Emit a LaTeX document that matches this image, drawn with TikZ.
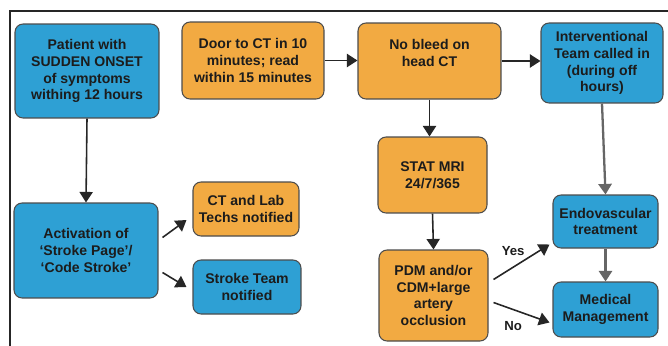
\documentclass[tikz,border=0pt]{standalone}
\usepackage{fontspec}
\setmainfont{Liberation Sans}
\usepackage{tikz}
\usetikzlibrary{arrows.meta,positioning}

\definecolor{pathblue}{RGB}{46,160,212}
\definecolor{pathorange}{RGB}{242,170,66}
\definecolor{pathtext}{RGB}{28,28,28}

\tikzset{
  stepbox/.style={draw=black!70,line width=0.6pt,rounded corners=0.16cm,
    align=center,inner sep=1pt,text=pathtext,
    font=\fontsize{8}{9.6}\selectfont\bfseries},
  bluebox/.style={stepbox,fill=pathblue},
  orangebox/.style={stepbox,fill=pathorange},
  flow/.style={-{Triangle[width=7.5pt,length=6pt]},line width=0.9pt,black!85},
  grayflow/.style={flow,gray!80!black,line width=1.3pt},
  yesno/.style={font=\fontsize{7.5}{9}\selectfont\bfseries,text=pathtext}
}

\begin{document}
\begin{tikzpicture}[x=0.02cm,y=-0.02cm]
\useasboundingbox (0,0) rectangle (668,345);
\draw[line width=1pt,black!85] (10,350) -- (10,11) -- (675,11);

\node[bluebox,minimum width=2.88cm,minimum height=1.88cm] (patient) at (87,71)
  {Patient with\\SUDDEN ONSET\\of symptoms\\withing 12 hours};
\node[orangebox,minimum width=2.84cm,minimum height=1.54cm] (door) at (253,60.5)
  {Door to CT in 10\\minutes; read\\within 15 minutes};
\node[orangebox,minimum width=2.86cm,minimum height=1.52cm] (bleed) at (429.5,61)
  {No bleed on\\head CT\\ };
\node[bluebox,minimum width=2.44cm,minimum height=1.60cm] (interv) at (602,63)
  {Interventional\\Team called in\\(during off\\hours)};
\node[orangebox,minimum width=2.18cm,minimum height=1.52cm] (mri) at (432.5,175)
  {STAT MRI\\24/7/365};
\node[orangebox,minimum width=2.18cm,minimum height=1.82cm] (pdm) at (433.5,295.5)
  {PDM and/or\\CDM+large\\artery\\occlusion};
\node[bluebox,minimum width=2.10cm,minimum height=1.06cm] (endo) at (605.5,221.5)
  {Endovascular\\treatment};
\node[bluebox,minimum width=2.10cm,minimum height=1.10cm] (medical) at (605.5,309.5)
  {Medical\\Management};
\node[bluebox,minimum width=2.88cm,minimum height=1.90cm] (activ) at (86,250.5)
  {Activation of\\`Stroke Page'/\\`Code Stroke'};
\node[orangebox,minimum width=2.12cm,minimum height=1.08cm] (techs) at (246,209)
  {CT and Lab\\Techs notified};
\node[bluebox,minimum width=2.16cm,minimum height=1.08cm] (team) at (247,287)
  {Stroke Team\\notified};

\draw[flow] (door.east) -- (bleed.west |- door.east);
\draw[flow] (bleed.east) -- (bleed.east -| interv.west);
\draw[flow] (bleed.south) -- (bleed.south |- mri.north);
\draw[flow] (mri.south) -- (pdm.north);
\draw[flow] (patient.south) -- (activ.north);
\draw[grayflow] (interv.south) -- (endo.north);
\draw[grayflow] (endo.south) -- (medical.north);

\draw[flow] ([shift={(4,-13)}]activ.east) -- ([shift={(-6,11)}]techs.west);
\draw[flow] ([shift={(4,22)}]activ.east) -- ([shift={(-6,0)}]team.west);
\draw[flow] ([shift={(5,-16)}]pdm.east) -- ([shift={(-3,23)}]endo.west)
  node[yesno,pos=0.35,above=3pt] {Yes};
\draw[flow] ([shift={(5,7)}]pdm.east) -- ([shift={(-3,13)}]medical.west)
  node[yesno,pos=0.35,below=3pt] {No};
\end{tikzpicture}
\end{document}
